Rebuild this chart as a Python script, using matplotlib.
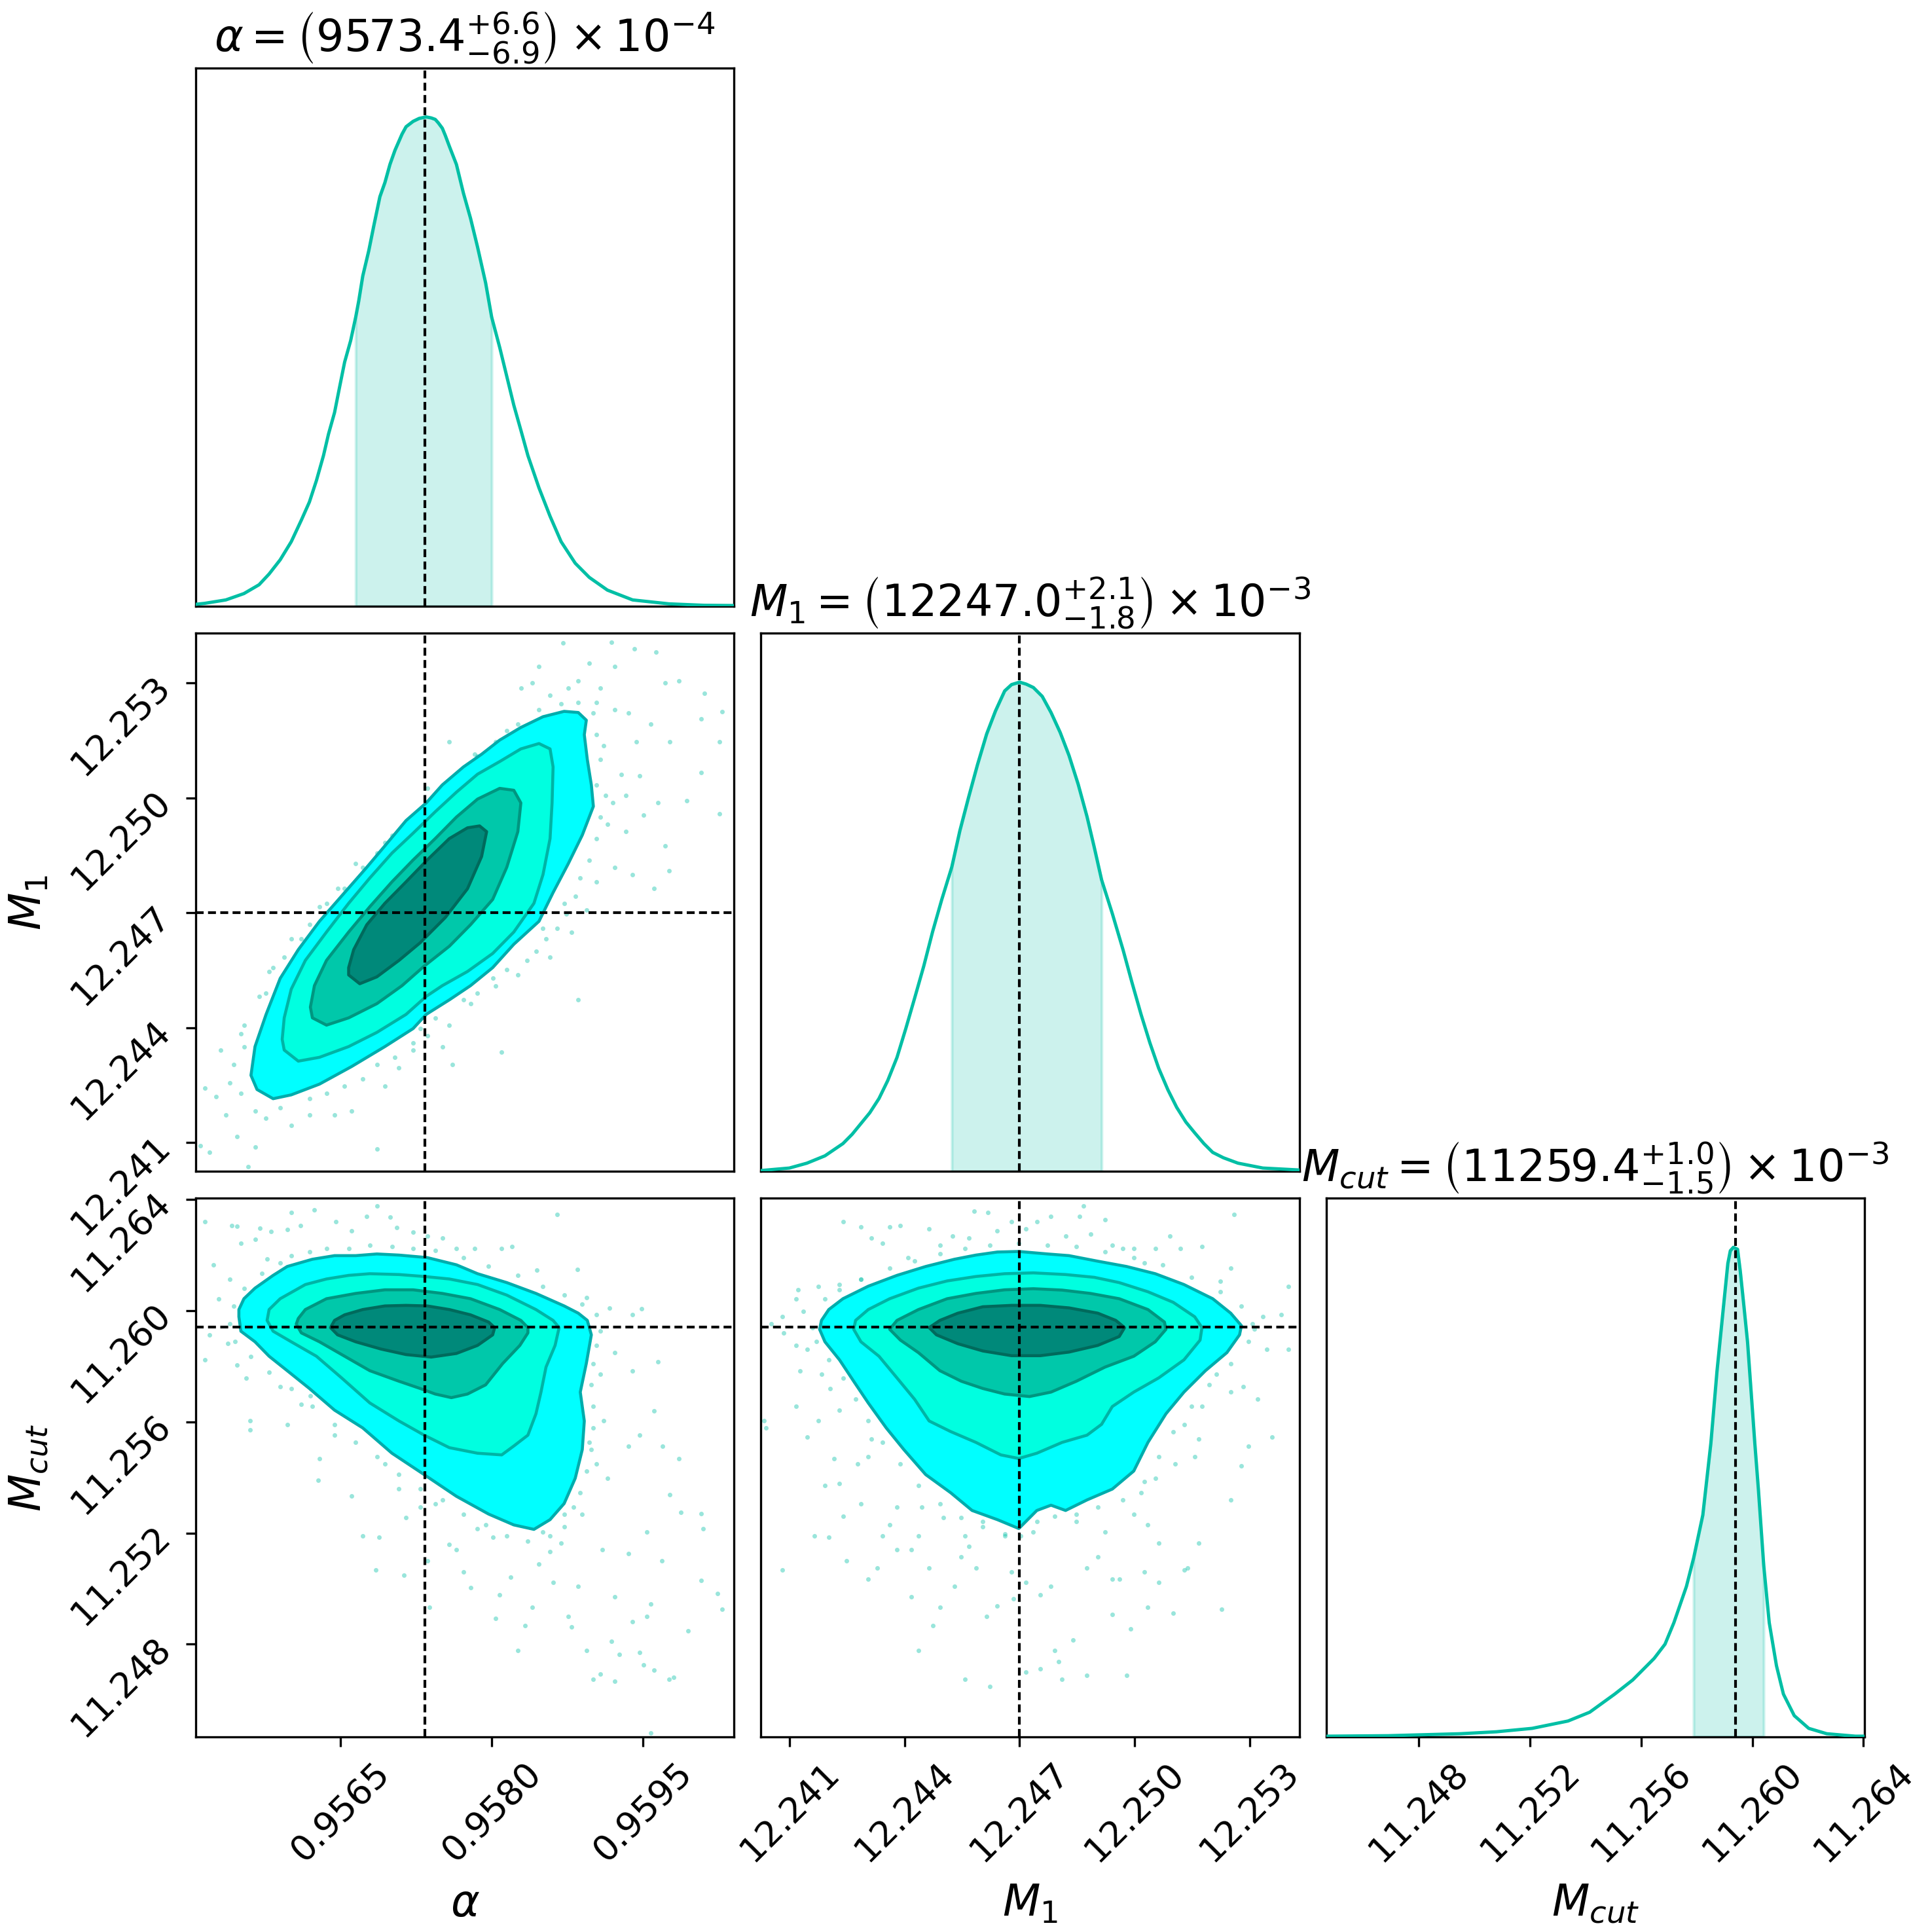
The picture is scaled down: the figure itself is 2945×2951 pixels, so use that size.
import matplotlib.pyplot as plt

# summary values shown in the titles (median and 68% bounds)
ALPHA_MED, ALPHA_LO, ALPHA_HI = 0.95734, 0.95665, 0.95800
M1_MED, M1_LO, M1_HI = 12.2470, 12.24523, 12.24914
MCUT_MED, MCUT_LO, MCUT_HI = 11.2594, 11.25789, 11.26041

TITLES = [
    r"$\alpha = \left( 9573.4^{+6.6}_{-6.9} \right) \times 10^{-4}$",
    r"$M_1 = \left( 12247.0^{+2.1}_{-1.8} \right) \times 10^{-3}$",
    r"$M_{cut} = \left( 11259.4^{+1.0}_{-1.5} \right) \times 10^{-3}$",
]
LABELS = [r"$\alpha$", r"$M_1$", r"$M_{cut}$"]

ALPHA_LIM = (0.955061, 0.960407)
M1_LIM = (12.24025, 12.25430)
MCUT_LIM = (11.24467, 11.26404)

ALPHA_TICKS = [0.9565, 0.9580, 0.9595]
ALPHA_TICKLABELS = ["0.9565", "0.9580", "0.9595"]
M1_TICKS = [12.241, 12.244, 12.247, 12.250, 12.253]
M1_TICKLABELS = ["12.241", "12.244", "12.247", "12.250", "12.253"]
MCUT_TICKS = [11.248, 11.252, 11.256, 11.260, 11.264]
MCUT_TICKLABELS = ["11.248", "11.252", "11.256", "11.260", "11.264"]

# marginal densities (peak normalised to 1)
ALPHA_X = [0.95506, 0.95515, 0.95536, 0.95554, 0.95569, 0.95579, 0.95590, 0.95601,
           0.95611, 0.95619, 0.95626, 0.95633, 0.95638, 0.95644, 0.95649, 0.95654,
           0.95660, 0.95665, 0.95668, 0.95672, 0.95678, 0.95683, 0.95689, 0.95694,
           0.95699, 0.95704, 0.95711, 0.95715, 0.95722, 0.95728, 0.95735, 0.95740,
           0.95744, 0.95747, 0.95751, 0.95754, 0.95758, 0.95765, 0.95772, 0.95779,
           0.95786, 0.95794, 0.95800, 0.95808, 0.95815, 0.95822, 0.95829, 0.95836,
           0.95847, 0.95858, 0.95869, 0.95883, 0.95897, 0.95915, 0.95940, 0.95976,
           0.96011, 0.96041]
ALPHA_PDF = [0.004, 0.006, 0.013, 0.026, 0.044, 0.066, 0.095, 0.132,
             0.176, 0.213, 0.257, 0.308, 0.352, 0.396, 0.448, 0.499,
             0.543, 0.591, 0.624, 0.675, 0.727, 0.778, 0.837, 0.866,
             0.903, 0.932, 0.965, 0.980, 0.991, 0.997, 1.000, 0.998,
             0.995, 0.988, 0.977, 0.962, 0.940, 0.903, 0.844, 0.793,
             0.734, 0.661, 0.591, 0.529, 0.470, 0.411, 0.360, 0.308,
             0.242, 0.184, 0.132, 0.088, 0.059, 0.033, 0.013, 0.005,
             0.002, 0.0015]

M1_X = [12.24026, 12.24099, 12.24145, 12.24192, 12.24239, 12.24263, 12.24286, 12.24309,
        12.24333, 12.24356, 12.24380, 12.24403, 12.24426, 12.24450, 12.24473, 12.24497,
        12.24523, 12.24544, 12.24567, 12.24590, 12.24614, 12.24637, 12.24661, 12.24679,
        12.24700, 12.24717, 12.24736, 12.24759, 12.24782, 12.24806, 12.24829, 12.24853,
        12.24876, 12.24895, 12.24914, 12.24942, 12.24970, 12.24993, 12.25017, 12.25040,
        12.25063, 12.25087, 12.25110, 12.25134, 12.25157, 12.25181, 12.25204, 12.25232,
        12.25270, 12.25335, 12.25431]
M1_PDF = [0.002, 0.007, 0.017, 0.032, 0.057, 0.076, 0.098, 0.120,
          0.149, 0.186, 0.233, 0.292, 0.354, 0.420, 0.490, 0.556,
          0.622, 0.696, 0.765, 0.831, 0.894, 0.941, 0.982, 0.995,
          1.000, 0.996, 0.989, 0.971, 0.938, 0.897, 0.850, 0.791,
          0.725, 0.662, 0.596, 0.527, 0.453, 0.387, 0.321, 0.263,
          0.211, 0.167, 0.131, 0.101, 0.079, 0.057, 0.039, 0.028,
          0.017, 0.007, 0.003]

MCUT_X = [11.24469, 11.24691, 11.24820, 11.24949, 11.25079, 11.25208, 11.25337, 11.25415,
          11.25505, 11.25570, 11.25647, 11.25686, 11.25718, 11.25763, 11.25789, 11.25822,
          11.25851, 11.25873, 11.25899, 11.25912, 11.25921, 11.25932, 11.25947, 11.25957,
          11.25970, 11.25983, 11.25996, 11.26009, 11.26022, 11.26041, 11.26061, 11.26087,
          11.26112, 11.26151, 11.26203, 11.26268, 11.26371, 11.26407]
MCUT_PDF = [0.001, 0.002, 0.004, 0.006, 0.010, 0.017, 0.032, 0.050,
            0.087, 0.116, 0.160, 0.189, 0.233, 0.307, 0.365, 0.453,
            0.600, 0.747, 0.894, 0.967, 0.993, 1.000, 0.996, 0.950,
            0.879, 0.806, 0.703, 0.600, 0.505, 0.351, 0.233, 0.145,
            0.087, 0.043, 0.017, 0.006, 0.001, 0.001]

# credible-region contours (outer -> inner), vertices in data units
ALPHA_M1_CONTOURS = [
    [(0.95561, 12.24276), (0.95567, 12.24239), (0.95583, 12.24215), (0.95601, 12.24225),
     (0.95629, 12.24253), (0.95661, 12.24299), (0.95694, 12.24351), (0.95722, 12.24398),
     (0.95735, 12.24435), (0.95758, 12.24473), (0.95779, 12.24510), (0.95801, 12.24557),
     (0.95822, 12.24618), (0.95847, 12.24678), (0.95861, 12.24753), (0.95876, 12.24828),
     (0.95890, 12.24903), (0.95901, 12.24978), (0.95899, 12.25034), (0.95895, 12.25100),
     (0.95892, 12.25165), (0.95894, 12.25203), (0.95886, 12.25223), (0.95872, 12.25226),
     (0.95851, 12.25212), (0.95829, 12.25184), (0.95808, 12.25151), (0.95790, 12.25114),
     (0.95772, 12.25081), (0.95751, 12.25034), (0.95735, 12.24987), (0.95715, 12.24941),
     (0.95694, 12.24875), (0.95676, 12.24819), (0.95654, 12.24753), (0.95629, 12.24678),
     (0.95608, 12.24604), (0.95590, 12.24529), (0.95576, 12.24435), (0.95565, 12.24351)],
    [(0.95594, 12.24342), (0.95608, 12.24313), (0.95629, 12.24323), (0.95658, 12.24351),
     (0.95686, 12.24388), (0.95715, 12.24435), (0.95735, 12.24482), (0.95751, 12.24510),
     (0.95776, 12.24547), (0.95801, 12.24594), (0.95822, 12.24650), (0.95842, 12.24725),
     (0.95851, 12.24800), (0.95858, 12.24894), (0.95860, 12.24987), (0.95861, 12.25081),
     (0.95858, 12.25128), (0.95847, 12.25142), (0.95829, 12.25128), (0.95808, 12.25095),
     (0.95786, 12.25062), (0.95765, 12.25015), (0.95744, 12.24964), (0.95722, 12.24908),
     (0.95701, 12.24856), (0.95679, 12.24791), (0.95658, 12.24725), (0.95636, 12.24650),
     (0.95615, 12.24576), (0.95601, 12.24501), (0.95594, 12.24426), (0.95592, 12.24370)],
    [(0.95622, 12.24426), (0.95636, 12.24407), (0.95658, 12.24426), (0.95686, 12.24463),
     (0.95711, 12.24510), (0.95733, 12.24561), (0.95758, 12.24613), (0.95779, 12.24669),
     (0.95801, 12.24735), (0.95815, 12.24819), (0.95826, 12.24912), (0.95829, 12.24987),
     (0.95822, 12.25020), (0.95808, 12.25025), (0.95786, 12.24997), (0.95765, 12.24950),
     (0.95744, 12.24894), (0.95722, 12.24838), (0.95701, 12.24781), (0.95679, 12.24716),
     (0.95658, 12.24650), (0.95636, 12.24576), (0.95624, 12.24510), (0.95620, 12.24454)],
    [(0.95658, 12.24538), (0.95669, 12.24515), (0.95686, 12.24533), (0.95708, 12.24576),
     (0.95729, 12.24622), (0.95754, 12.24688), (0.95776, 12.24763), (0.95790, 12.24847),
     (0.95795, 12.24912), (0.95788, 12.24927), (0.95776, 12.24922), (0.95758, 12.24894),
     (0.95736, 12.24838), (0.95715, 12.24781), (0.95694, 12.24725), (0.95676, 12.24669),
     (0.95663, 12.24604), (0.95658, 12.24557)],
]

ALPHA_MCUT_CONTOURS = [
    [(0.95549, 11.25978), (0.95551, 11.25926), (0.95565, 11.25888), (0.95579, 11.25836),
     (0.95597, 11.25784), (0.95619, 11.25720), (0.95644, 11.25642), (0.95672, 11.25578),
     (0.95701, 11.25487), (0.95733, 11.25410), (0.95765, 11.25332), (0.95797, 11.25268),
     (0.95822, 11.25229), (0.95842, 11.25213), (0.95858, 11.25248), (0.95872, 11.25306),
     (0.95883, 11.25397), (0.95890, 11.25500), (0.95892, 11.25603), (0.95888, 11.25707),
     (0.95894, 11.25810), (0.95899, 11.25913), (0.95895, 11.25965), (0.95886, 11.25991),
     (0.95872, 11.26017), (0.95844, 11.26062), (0.95815, 11.26101), (0.95786, 11.26133),
     (0.95765, 11.26165), (0.95736, 11.26191), (0.95708, 11.26200), (0.95686, 11.26204),
     (0.95665, 11.26198), (0.95644, 11.26198), (0.95622, 11.26185), (0.95597, 11.26159),
     (0.95583, 11.26127), (0.95565, 11.26081), (0.95554, 11.26043), (0.95549, 11.26004)],
    [(0.95577, 11.25965), (0.95583, 11.25926), (0.95601, 11.25888), (0.95626, 11.25836),
     (0.95651, 11.25758), (0.95679, 11.25668), (0.95708, 11.25603), (0.95733, 11.25552),
     (0.95758, 11.25507), (0.95786, 11.25487), (0.95810, 11.25481), (0.95822, 11.25513),
     (0.95836, 11.25552), (0.95844, 11.25629), (0.95849, 11.25707), (0.95854, 11.25797),
     (0.95863, 11.25875), (0.95867, 11.25939), (0.95861, 11.25965), (0.95844, 11.26004),
     (0.95815, 11.26056), (0.95786, 11.26094), (0.95758, 11.26114), (0.95733, 11.26123),
     (0.95708, 11.26130), (0.95679, 11.26133), (0.95658, 11.26127), (0.95636, 11.26114),
     (0.95615, 11.26094), (0.95590, 11.26043), (0.95579, 11.26004)],
    [(0.95606, 11.25952), (0.95611, 11.25920), (0.95629, 11.25888), (0.95654, 11.25836),
     (0.95679, 11.25784), (0.95708, 11.25746), (0.95729, 11.25720), (0.95744, 11.25700),
     (0.95760, 11.25687), (0.95776, 11.25700), (0.95794, 11.25733), (0.95811, 11.25810),
     (0.95828, 11.25875), (0.95836, 11.25920), (0.95836, 11.25939), (0.95829, 11.25965),
     (0.95808, 11.26004), (0.95779, 11.26043), (0.95751, 11.26062), (0.95722, 11.26075),
     (0.95694, 11.26075), (0.95665, 11.26062), (0.95636, 11.26043), (0.95615, 11.26004),
     (0.95608, 11.25972)],
    [(0.95640, 11.25939), (0.95647, 11.25913), (0.95665, 11.25888), (0.95690, 11.25862),
     (0.95715, 11.25842), (0.95740, 11.25833), (0.95765, 11.25846), (0.95786, 11.25875),
     (0.95801, 11.25913), (0.95803, 11.25939), (0.95797, 11.25959), (0.95779, 11.25985),
     (0.95758, 11.26004), (0.95736, 11.26017), (0.95715, 11.26019), (0.95694, 11.26017),
     (0.95672, 11.26004), (0.95654, 11.25985), (0.95644, 11.25965)],
]

M1_MCUT_CONTOURS = [
    [(12.24178, 11.25933), (12.24192, 11.25888), (12.24230, 11.25823), (12.24267, 11.25746),
     (12.24305, 11.25668), (12.24352, 11.25578), (12.24398, 11.25500), (12.24455, 11.25410),
     (12.24520, 11.25345), (12.24576, 11.25281), (12.24642, 11.25248), (12.24698, 11.25216),
     (12.24745, 11.25281), (12.24782, 11.25300), (12.24820, 11.25281), (12.24876, 11.25319),
     (12.24942, 11.25358), (12.24998, 11.25423), (12.25035, 11.25526), (12.25082, 11.25629),
     (12.25129, 11.25707), (12.25185, 11.25784), (12.25241, 11.25849), (12.25274, 11.25913),
     (12.25279, 11.25946), (12.25251, 11.25991), (12.25204, 11.26043), (12.25129, 11.26094),
     (12.25054, 11.26133), (12.24979, 11.26159), (12.24904, 11.26178), (12.24829, 11.26198),
     (12.24773, 11.26204), (12.24698, 11.26213), (12.24642, 11.26211), (12.24586, 11.26200),
     (12.24530, 11.26185), (12.24455, 11.26159), (12.24380, 11.26127), (12.24305, 11.26088),
     (12.24239, 11.26043), (12.24202, 11.26004), (12.24183, 11.25965)],
    [(12.24267, 11.25933), (12.24286, 11.25888), (12.24333, 11.25836), (12.24380, 11.25758),
     (12.24426, 11.25681), (12.24464, 11.25603), (12.24520, 11.25565), (12.24586, 11.25526),
     (12.24651, 11.25481), (12.24698, 11.25468), (12.24745, 11.25487), (12.24811, 11.25526),
     (12.24876, 11.25552), (12.24914, 11.25591), (12.24942, 11.25655), (12.24998, 11.25707),
     (12.25063, 11.25758), (12.25129, 11.25823), (12.25171, 11.25894), (12.25176, 11.25939),
     (12.25157, 11.25978), (12.25101, 11.26030), (12.25035, 11.26068), (12.24960, 11.26101),
     (12.24895, 11.26120), (12.24820, 11.26130), (12.24736, 11.26136), (12.24661, 11.26133),
     (12.24586, 11.26123), (12.24511, 11.26107), (12.24436, 11.26081), (12.24361, 11.26043),
     (12.24305, 11.26004), (12.24272, 11.25965)],
    [(12.24361, 11.25933), (12.24389, 11.25894), (12.24436, 11.25849), (12.24492, 11.25784),
     (12.24548, 11.25746), (12.24604, 11.25720), (12.24661, 11.25700), (12.24726, 11.25691),
     (12.24782, 11.25707), (12.24848, 11.25746), (12.24923, 11.25797), (12.24998, 11.25836),
     (12.25054, 11.25888), (12.25082, 11.25933), (12.25078, 11.25959), (12.25035, 11.26004),
     (12.24960, 11.26043), (12.24885, 11.26062), (12.24811, 11.26074), (12.24736, 11.26079),
     (12.24661, 11.26075), (12.24586, 11.26062), (12.24511, 11.26043), (12.24436, 11.26004),
     (12.24380, 11.25965)],
    [(12.24464, 11.25939), (12.24483, 11.25913), (12.24539, 11.25881), (12.24604, 11.25855),
     (12.24679, 11.25838), (12.24754, 11.25838), (12.24829, 11.25851), (12.24904, 11.25875),
     (12.24960, 11.25907), (12.24974, 11.25939), (12.24951, 11.25965), (12.24904, 11.25991),
     (12.24829, 11.26010), (12.24754, 11.26019), (12.24679, 11.26019), (12.24604, 11.26014),
     (12.24539, 11.25991), (12.24492, 11.25965)],
]

# samples visible outside the outer contour (estimated positions)
ALPHA_M1_POINTS = [
    (0.95871, 12.25404), (0.95919, 12.25407), (0.95942, 12.25390), (0.95963, 12.25380),
    (0.95897, 12.25352), (0.95922, 12.25343), (0.95876, 12.25287), (0.95858, 12.25268),
    (0.95904, 12.25249), (0.95936, 12.25221), (0.95972, 12.25301), (0.95986, 12.25306),
    (0.96011, 12.25273), (0.96029, 12.25226), (0.96008, 12.25207), (0.95958, 12.25193),
    (0.95911, 12.25137), (0.95944, 12.25146), (0.95977, 12.25146), (0.95929, 12.25062),
    (0.95947, 12.25058), (0.96008, 12.25067), (0.96026, 12.25146), (0.95994, 12.24992),
    (0.95965, 12.24987), (0.95951, 12.24955), (0.95933, 12.24912), (0.95915, 12.24931),
    (0.95972, 12.24875), (0.96026, 12.24959), (0.95976, 12.24810), (0.95922, 12.24819),
    (0.95940, 12.24800), (0.95961, 12.24763), (0.95904, 12.24781), (0.95894, 12.24707),
    (0.95872, 12.24725), (0.95879, 12.24650), (0.95851, 12.24660), (0.95886, 12.24473),
    (0.95858, 12.24585), (0.95826, 12.24538), (0.95804, 12.24510), (0.95779, 12.24463),
    (0.95758, 12.24407), (0.95751, 12.24351), (0.95761, 12.24304), (0.95810, 12.24337),
    (0.95729, 12.24398), (0.95722, 12.24342), (0.95708, 12.24295), (0.95694, 12.24248),
    (0.95686, 12.24084), (0.95661, 12.24182), (0.95644, 12.24173), (0.95619, 12.24173),
    (0.95601, 12.24145), (0.95576, 12.24164), (0.95565, 12.24089), (0.95547, 12.24117),
    (0.95536, 12.24173), (0.95526, 12.24220), (0.95515, 12.24243), (0.95511, 12.24093),
    (0.95520, 12.24075), (0.95558, 12.24037), (0.95531, 12.24342), (0.95544, 12.24304),
    (0.95551, 12.24384), (0.95554, 12.24407), (0.95576, 12.24491), (0.95579, 12.24547),
    (0.95594, 12.24585), (0.95611, 12.24632), (0.95629, 12.24716), (0.95654, 12.24763),
    (0.95665, 12.24828), (0.95694, 12.24884), (0.95708, 12.24912), (0.95736, 12.25025),
    (0.95758, 12.25146), (0.95783, 12.25114), (0.95815, 12.25175), (0.95840, 12.25301),
    (0.95847, 12.25343), (0.95829, 12.25287),
    (0.95908, 12.24950), (0.95904, 12.24894), (0.95897, 12.24838), (0.95888, 12.24791),
    (0.95883, 12.24744), (0.95874, 12.24697), (0.95865, 12.24660), (0.95854, 12.24632),
    (0.95844, 12.24599), (0.95835, 12.24576), (0.95815, 12.24552), (0.95801, 12.24529),
    (0.95786, 12.24491), (0.95772, 12.24473), (0.95744, 12.24426), (0.95736, 12.24379),
    (0.95722, 12.24360), (0.95704, 12.24323), (0.95686, 12.24304), (0.95672, 12.24267),
    (0.95654, 12.24248), (0.95636, 12.24229), (0.95619, 12.24215), (0.95590, 12.24192),
    (0.95565, 12.24182), (0.95551, 12.24229), (0.95540, 12.24257), (0.95554, 12.24351),
    (0.95569, 12.24482), (0.95583, 12.24557), (0.95601, 12.24632), (0.95619, 12.24669),
    (0.95636, 12.24725), (0.95647, 12.24763), (0.95672, 12.24819), (0.95686, 12.24856),
    (0.95701, 12.24903), (0.95722, 12.24950), (0.95744, 12.25006), (0.95765, 12.25062),
    (0.95786, 12.25109), (0.95804, 12.25146), (0.95826, 12.25193), (0.95847, 12.25231),
    (0.95869, 12.25245), (0.95886, 12.25249), (0.95901, 12.25221), (0.95904, 12.25165),
    (0.95908, 12.25100), (0.95904, 12.25034), (0.95913, 12.25006), (0.95920, 12.24987),
    (0.95933, 12.25006), (0.95922, 12.25231), (0.95886, 12.25306), (0.95908, 12.25287),
]

ALPHA_MCUT_POINTS = [
    (0.95515, 11.26320), (0.95542, 11.26307), (0.95547, 11.26304), (0.95570, 11.26297),
    (0.95581, 11.26285), (0.95597, 11.26291), (0.95601, 11.26353), (0.95610, 11.26307),
    (0.95624, 11.26363), (0.95645, 11.26320), (0.95661, 11.26288), (0.95676, 11.26340),
    (0.95686, 11.26376), (0.95699, 11.26337), (0.95706, 11.26298), (0.95722, 11.26282),
    (0.95736, 11.26269), (0.95751, 11.26262), (0.95765, 11.26223), (0.95783, 11.26223),
    (0.95810, 11.26223), (0.95820, 11.26230), (0.95865, 11.26346), (0.95885, 11.26149),
    (0.95845, 11.26146), (0.95894, 11.26046), (0.95917, 11.26010), (0.95949, 11.26006),
    (0.95940, 11.25985), (0.95551, 11.26243), (0.95565, 11.26256), (0.95577, 11.26185),
    (0.95524, 11.26165), (0.95540, 11.26114), (0.95529, 11.26043), (0.95520, 11.25913),
    (0.95515, 11.25823), (0.95538, 11.25881), (0.95547, 11.25804), (0.95556, 11.25758),
    (0.95560, 11.25603), (0.95560, 11.25571), (0.95597, 11.25591), (0.95590, 11.25726),
    (0.95611, 11.25662), (0.95620, 11.25694), (0.95628, 11.25390), (0.95629, 11.25468),
    (0.95644, 11.25552), (0.95661, 11.25332), (0.95672, 11.25190), (0.95685, 11.25067),
    (0.95688, 11.25184), (0.95694, 11.25448), (0.95708, 11.25358), (0.95715, 11.25255),
    (0.95713, 11.25048), (0.95729, 11.25293), (0.95736, 11.25100), (0.95738, 11.24932),
    (0.95744, 11.25306), (0.95758, 11.25158), (0.95765, 11.25139), (0.95772, 11.25061),
    (0.95779, 11.25003), (0.95786, 11.25216), (0.95801, 11.25184), (0.95808, 11.24977),
    (0.95819, 11.25042), (0.95826, 11.24777), (0.95833, 11.24867), (0.95840, 11.24932),
    (0.95847, 11.25087), (0.95858, 11.25132), (0.95869, 11.25164), (0.95876, 11.24900),
    (0.95879, 11.24861), (0.95886, 11.25009), (0.95894, 11.24777), (0.95901, 11.24674),
    (0.95908, 11.24693), (0.95919, 11.24809), (0.95922, 11.24667), (0.95927, 11.24764),
    (0.95940, 11.24880), (0.95947, 11.24770), (0.95951, 11.24725), (0.95961, 11.24706),
    (0.95976, 11.24674), (0.95981, 11.24680), (0.95995, 11.24848), (0.96008, 11.25029),
    (0.96024, 11.24983), (0.96029, 11.24925), (0.95958, 11.24945), (0.95954, 11.24900),
    (0.95969, 11.25100), (0.95986, 11.25468), (0.95970, 11.25513), (0.95977, 11.25339),
    (0.95988, 11.25274), (0.96010, 11.25216), (0.96008, 11.25270), (0.95961, 11.25640),
    (0.95965, 11.25817), (0.95940, 11.25784), (0.95922, 11.25849), (0.95908, 11.25771),
    (0.95947, 11.25552), (0.95936, 11.25513), (0.95904, 11.25448), (0.95915, 11.25397),
    (0.95890, 11.25268), (0.95872, 11.25268), (0.95851, 11.25203), (0.95897, 11.25526),
    (0.95911, 11.25603), (0.95958, 11.24480), (0.95954, 11.25203), (0.95936, 11.25126),
    (0.95910, 11.25139), (0.95922, 11.24971), (0.95861, 11.25022), (0.95804, 11.24893),
    (0.95601, 11.26198), (0.95619, 11.26211), (0.95636, 11.26223), (0.95658, 11.26223),
    (0.95679, 11.26236), (0.95701, 11.26230), (0.95722, 11.26223), (0.95744, 11.26217),
    (0.95772, 11.26191), (0.95797, 11.26159), (0.95826, 11.26127), (0.95851, 11.26088),
    (0.95872, 11.26056), (0.95890, 11.26023), (0.95904, 11.25985), (0.95908, 11.25926),
    (0.95904, 11.25875), (0.95901, 11.25810), (0.95899, 11.25733), (0.95901, 11.25655),
    (0.95901, 11.25578), (0.95899, 11.25500), (0.95894, 11.25423), (0.95888, 11.25345),
    (0.95881, 11.25293), (0.95872, 11.25222), (0.95858, 11.25190), (0.95836, 11.25171),
    (0.95815, 11.25190), (0.95794, 11.25229), (0.95772, 11.25268), (0.95751, 11.25319),
    (0.95729, 11.25358), (0.95708, 11.25410), (0.95686, 11.25474), (0.95665, 11.25526),
    (0.95644, 11.25591), (0.95622, 11.25655), (0.95601, 11.25720), (0.95579, 11.25778),
    (0.95561, 11.25836), (0.95545, 11.25888), (0.95540, 11.25952), (0.95544, 11.26017),
    (0.95554, 11.26081), (0.95572, 11.26133), (0.95590, 11.26172),
]

M1_MCUT_POINTS = [
    (12.24239, 11.26320), (12.24286, 11.26301), (12.24361, 11.26301), (12.24389, 11.26307),
    (12.24464, 11.26294), (12.24492, 11.26236), (12.24525, 11.26269), (12.24567, 11.26262),
    (12.24581, 11.26359), (12.24618, 11.26353), (12.24642, 11.26288), (12.24679, 11.26320),
    (12.24717, 11.26294), (12.24745, 11.26320), (12.24782, 11.26340), (12.24820, 11.26269),
    (12.24857, 11.26340), (12.24867, 11.26378), (12.24885, 11.26275), (12.24923, 11.26327),
    (12.24942, 11.26236), (12.24970, 11.26223), (12.24998, 11.26223), (12.25026, 11.26172),
    (12.25054, 11.26223), (12.25092, 11.26269), (12.25120, 11.26223), (12.25176, 11.26230),
    (12.25260, 11.26346), (12.25251, 11.26152), (12.25223, 11.26107), (12.25401, 11.26088),
    (12.25382, 11.25985), (12.25335, 11.25978), (12.25312, 11.25933), (12.25345, 11.25862),
    (12.25401, 11.25862), (12.24314, 11.26262), (12.24342, 11.26243), (12.24408, 11.26191),
    (12.24286, 11.26114), (12.24230, 11.26094), (12.24174, 11.26088), (12.24122, 11.26075),
    (12.24117, 11.26043), (12.24136, 11.25997), (12.24080, 11.25978), (12.24085, 11.25920),
    (12.24052, 11.25952), (12.24038, 11.25578), (12.24033, 11.25603), (12.24117, 11.25875),
    (12.24145, 11.25862), (12.24127, 11.25784), (12.24183, 11.25771), (12.24206, 11.25720),
    (12.24230, 11.25642), (12.24174, 11.25603), (12.24117, 11.25655), (12.24145, 11.25545),
    (12.24216, 11.25468), (12.24230, 11.25377), (12.24192, 11.25371), (12.24277, 11.25448),
    (12.24305, 11.25474), (12.24314, 11.25539), (12.24286, 11.25306), (12.24239, 11.25261),
    (12.24164, 11.25190), (12.24202, 11.25184), (12.24080, 11.25067), (12.24248, 11.25100),
    (12.24328, 11.25074), (12.24305, 11.25035), (12.24361, 11.25229), (12.24380, 11.25293),
    (12.24342, 11.25190), (12.24380, 11.25139), (12.24417, 11.25139), (12.24436, 11.25190),
    (12.24417, 11.24971), (12.24464, 11.25074), (12.24492, 11.24932), (12.24530, 11.25009),
    (12.24548, 11.25113), (12.24567, 11.25151), (12.24586, 11.25074), (12.24614, 11.24900),
    (12.24642, 11.24938), (12.24679, 11.25061), (12.24684, 11.24964), (12.24717, 11.25022),
    (12.24754, 11.24977), (12.24782, 11.25009), (12.24792, 11.24777), (12.24801, 11.24738),
    (12.24811, 11.24674), (12.24839, 11.24816), (12.24876, 11.24687), (12.24904, 11.25113),
    (12.24942, 11.24906), (12.24960, 11.25035), (12.24979, 11.24687), (12.24989, 11.24854),
    (12.25026, 11.25061), (12.25035, 11.24932), (12.25063, 11.25022), (12.25101, 11.24912),
    (12.25129, 11.25067), (12.25167, 11.25164), (12.25227, 11.24925), (12.25251, 11.25319),
    (12.25298, 11.25513), (12.25279, 11.25442), (12.25359, 11.25545), (12.25321, 11.25681),
    (12.25284, 11.25726), (12.25251, 11.25707), (12.25213, 11.25771), (12.25129, 11.25591),
    (12.25176, 11.25655), (12.25167, 11.25539), (12.25157, 11.25474), (12.25106, 11.25448),
    (12.25054, 11.25397), (12.25017, 11.25345), (12.24998, 11.25268), (12.24923, 11.25203),
    (12.24848, 11.25242), (12.24736, 11.25203), (12.24661, 11.25190), (12.24604, 11.25242),
    (12.24558, 11.25190), (12.24501, 11.25255), (12.24445, 11.25293), (12.24623, 11.24648),
    (12.24558, 11.24674), (12.24436, 11.24777), (12.24473, 11.24867), (12.24717, 11.24699),
    (12.24754, 11.24712), (12.24876, 11.25074), (12.24942, 11.25035), (12.25138, 11.25074),
    (12.25063, 11.25164), (12.25035, 11.25229),
    (12.24160, 11.25939), (12.24169, 11.25888), (12.24202, 11.25823), (12.24239, 11.25758),
    (12.24272, 11.25681), (12.24305, 11.25603), (12.24342, 11.25526), (12.24389, 11.25448),
    (12.24436, 11.25371), (12.24492, 11.25306), (12.24548, 11.25255), (12.24604, 11.25222),
    (12.24661, 11.25197), (12.24703, 11.25190), (12.24745, 11.25242), (12.24792, 11.25261),
    (12.24848, 11.25268), (12.24904, 11.25293), (12.24970, 11.25319), (12.25026, 11.25384),
    (12.25063, 11.25474), (12.25101, 11.25565), (12.25148, 11.25655), (12.25195, 11.25733),
    (12.25251, 11.25810), (12.25298, 11.25888), (12.25307, 11.25952), (12.25279, 11.26017),
    (12.25223, 11.26068), (12.25148, 11.26120), (12.25073, 11.26165), (12.24998, 11.26191),
    (12.24923, 11.26211), (12.24848, 11.26230), (12.24773, 11.26236), (12.24698, 11.26243),
    (12.24623, 11.26236), (12.24558, 11.26223), (12.24492, 11.26204), (12.24426, 11.26178),
    (12.24361, 11.26152), (12.24286, 11.26114), (12.24230, 11.26075), (12.24192, 11.26043),
]

LINE_COLOR = "#00BFA5"
FILL_COLORS = ["#00FFFF", "#00FFE0", "#00C8AA", "#00897A"]
EDGE_COLORS = ["#00ACAC", "#00B4A5", "#009680", "#006A5C"]

plt.rcParams["mathtext.fontset"] = "dejavusans"

fig, axes = plt.subplots(3, 3, figsize=(2945 / 300, 2951 / 300), dpi=300)
fig.subplots_adjust(left=0.1015, right=0.9671, bottom=0.1011, top=0.9648,
                    wspace=0.05, hspace=0.05)

params = [
    dict(lim=ALPHA_LIM, ticks=ALPHA_TICKS, ticklabels=ALPHA_TICKLABELS, med=ALPHA_MED,
         lo=ALPHA_LO, hi=ALPHA_HI, x=ALPHA_X, pdf=ALPHA_PDF),
    dict(lim=M1_LIM, ticks=M1_TICKS, ticklabels=M1_TICKLABELS, med=M1_MED,
         lo=M1_LO, hi=M1_HI, x=M1_X, pdf=M1_PDF),
    dict(lim=MCUT_LIM, ticks=MCUT_TICKS, ticklabels=MCUT_TICKLABELS, med=MCUT_MED,
         lo=MCUT_LO, hi=MCUT_HI, x=MCUT_X, pdf=MCUT_PDF),
]
pairs = {
    (1, 0): (ALPHA_M1_CONTOURS, ALPHA_M1_POINTS),
    (2, 0): (ALPHA_MCUT_CONTOURS, ALPHA_MCUT_POINTS),
    (2, 1): (M1_MCUT_CONTOURS, M1_MCUT_POINTS),
}

truth_kw = dict(color="black", lw=1.0, ls=(0, (2.9, 1.6)), zorder=10)

for i in range(3):
    for j in range(3):
        ax = axes[i, j]
        if j > i:
            ax.axis("off")
            continue
        px, py = params[j], params[i]
        ax.set_xlim(px["lim"])
        if i == j:
            xs, pdf = px["x"], px["pdf"]
            ax.plot(xs, pdf, color=LINE_COLOR, lw=1.2, zorder=3,
                    solid_joinstyle="round")
            band = [(x, p) for x, p in zip(xs, pdf) if px["lo"] <= x <= px["hi"]]
            ax.fill_between([b[0] for b in band], [b[1] for b in band], 0,
                            color=LINE_COLOR, alpha=0.2, lw=1.0, zorder=2)
            ax.set_ylim(0, 1.1 * max(pdf))
            ax.axvline(px["med"], **truth_kw)
            ax.set_title(TITLES[i], fontsize=16)
            ax.set_yticks([])
        else:
            contours, points = pairs[(i, j)]
            ax.set_ylim(py["lim"])
            ax.scatter([p[0] for p in points], [p[1] for p in points], s=2.8,
                       color=LINE_COLOR, alpha=0.4, lw=0, zorder=1)
            for k, poly in enumerate(contours):
                ax.fill([v[0] for v in poly], [v[1] for v in poly],
                        facecolor=FILL_COLORS[k], edgecolor=EDGE_COLORS[k],
                        lw=1.1, joinstyle="round", zorder=2 + k)
            ax.axvline(px["med"], **truth_kw)
            ax.axhline(py["med"], **truth_kw)
            if j == 0:
                ax.set_yticks(py["ticks"])
                ax.set_yticklabels(py["ticklabels"], rotation=45, fontsize=13)
                ax.set_ylabel(LABELS[i], fontsize=16)
                ax.yaxis.set_label_coords(-0.27, 0.5)
            else:
                ax.set_yticks([])
        if i == 2:
            ax.set_xticks(px["ticks"])
            ax.set_xticklabels(px["ticklabels"], rotation=45, fontsize=13)
            ax.set_xlabel(LABELS[j], fontsize=16)
            ax.xaxis.set_label_coords(0.5, -0.27)
        else:
            ax.set_xticks([])

fig.savefig("out.png", dpi=300)
